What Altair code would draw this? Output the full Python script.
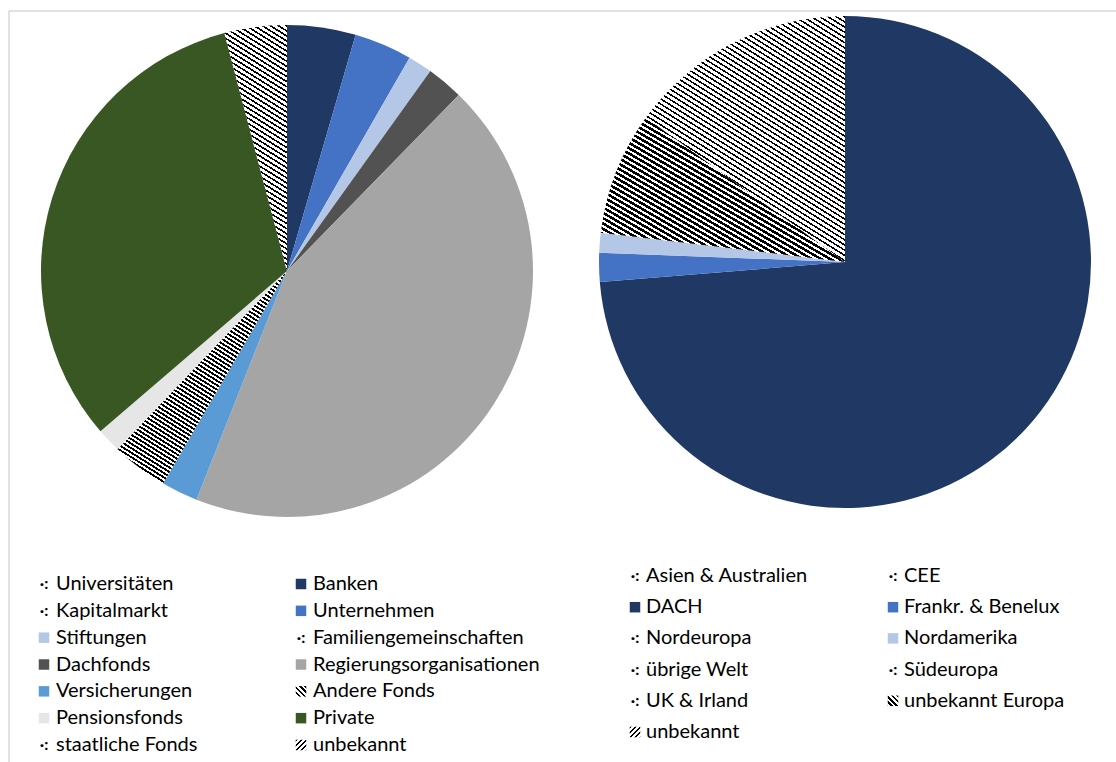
import math
import altair as alt
import pandas as pd

# ---------------- data ----------------
left_cats = ["Universitäten", "Banken", "Kapitalmarkt", "Unternehmen", "Stiftungen",
             "Familiengemeinschaften", "Dachfonds", "Regierungsorganisationen",
             "Versicherungen", "Andere Fonds", "Pensionsfonds", "Private",
             "staatliche Fonds", "unbekannt"]
left_vals = [0.0, 4.5, 0.0, 3.8, 1.6, 0.0, 2.4, 43.7, 2.4, 3.7, 1.6, 32.2, 0.0, 4.1]

right_cats = ["Asien & Australien", "CEE", "DACH", "Frankr. & Benelux", "Nordeuropa",
              "Nordamerika", "übrige Welt", "Südeuropa", "UK & Irland",
              "unbekannt Europa", "unbekannt"]
right_vals = [0.0, 0.0, 73.7, 1.9, 0.0, 1.3, 0.0, 0.0, 0.0, 8.1, 15.0]

# ---------------- styles ----------------
left_colors = ["#ffffff", "#203864", "#ffffff", "#4472C4", "#B4C7E7", "#ffffff", "#525252",
               "#A5A5A5", "#5B9BD5", "#ffffff", "#E7E6E6", "#385723", "#ffffff", "#ffffff"]
left_kinds = ["dots", "solid", "dots", "solid", "solid", "dots", "solid", "solid", "solid",
              "hatch", "solid", "solid", "dots", "hatch"]
right_colors = ["#ffffff", "#ffffff", "#203864", "#4472C4", "#ffffff", "#B4C7E7", "#ffffff",
                "#ffffff", "#ffffff", "#ffffff", "#ffffff"]
right_kinds = ["dots", "dots", "solid", "solid", "dots", "solid", "dots", "dots", "dots",
               "hatch", "hatch"]

FONT = "Lato"
FS = 20
R = 246


def hatch(W, H, angle, period, frac, fg="#000000", bg="#ffffff"):
    a = math.radians(angle)
    s, c = math.sin(a), math.cos(a)
    dx, dy = -s * W, c * H
    corners = [(0.0, 0.0), (1.0, 0.0), (0.0, 1.0), (1.0, 1.0)]
    vals = [dx * u + dy * v for u, v in corners]
    lo = corners[vals.index(min(vals))]
    hi = corners[vals.index(max(vals))]
    d2 = dx * dx + dy * dy
    lam = ((hi[0] - lo[0]) * dx + (hi[1] - lo[1]) * dy) / d2
    x2, y2 = lo[0] + lam * dx, lo[1] + lam * dy
    span = abs(s) * W + abs(c) * H
    step = period / span
    stops = []
    o = 0.0
    while o < 1.0:
        m = min(o + frac * step, 1.0)
        e = min(o + step, 1.0)
        stops += [{"offset": round(o, 5), "color": fg}, {"offset": round(m, 5), "color": fg},
                  {"offset": round(m, 5), "color": bg}, {"offset": round(e, 5), "color": bg}]
        o += step
    return {"gradient": "linear", "x1": lo[0], "y1": lo[1], "x2": round(x2, 5),
            "y2": round(y2, 5), "stops": stops}


def wedge_box(vals, i, r):
    tot = sum(vals)
    a0 = sum(vals[:i]) / tot * 360
    a1 = a0 + vals[i] / tot * 360
    angs = [a0, a1] + [k for k in (0, 90, 180, 270, 360) if a0 < k < a1]
    xs = [0.0] + [r * math.sin(math.radians(t)) for t in angs]
    ys = [0.0] + [-r * math.cos(math.radians(t)) for t in angs]
    return max(xs) - min(xs), max(ys) - min(ys)


def cond(cat, grad):
    return {"test": "datum.cat === '%s'" % cat, "value": grad}


# hatch parameters: (angle, period, black fraction)
left_hatch = {"Andere Fonds": (32, 3.8, 0.5), "unbekannt": (32, 4.3, 0.38)}
right_hatch = {"unbekannt Europa": (30, 4.6, 0.55), "unbekannt": (32, 4.4, 0.35)}
left_icon_hatch = {"Andere Fonds": (45, 3.6, 0.5), "unbekannt": (-45, 3.6, 0.3)}
right_icon_hatch = {"unbekannt Europa": (45, 3.6, 0.5), "unbekannt": (-45, 3.6, 0.3)}


def pie(cats, vals, colors, hatches, cx, cy):
    df = pd.DataFrame({"cat": cats, "value": vals, "idx": list(range(len(cats)))})
    conds = []
    for name, (ang, per, fr) in hatches.items():
        W, H = wedge_box(vals, cats.index(name), R)
        conds.append(cond(name, hatch(W, H, ang, per, fr)))
    return alt.Chart(df).mark_arc(radius=R).encode(
        theta=alt.Theta("value:Q", stack=True),
        color=alt.Color("cat:N", scale=alt.Scale(domain=cats, range=colors), legend=None,
                        condition=conds),
        order=alt.Order("idx:Q"),
        x=alt.value(cx),
        y=alt.value(cy),
    )


def legend(cats, colors, kinds, hatches, xr, yr, dx):
    n = len(cats)
    df = pd.DataFrame({"cat": cats, "idx": list(range(n)),
                       "row": [i // 2 for i in range(n)], "col": [i % 2 for i in range(n)],
                       "kind": kinds})
    nrows = (n + 1) // 2
    enc_x = alt.X("col:O", scale=alt.Scale(type="point", domain=[0, 1], range=xr, padding=0),
                  axis=None)
    enc_y = alt.Y("row:O", scale=alt.Scale(type="point", domain=list(range(nrows)), range=yr,
                                           padding=0), axis=None)
    icon_cols = [col if k == "solid" else "rgba(0,0,0,0)" for col, k in zip(colors, kinds)]
    side = math.sqrt(110)
    conds = [cond(name, hatch(side, side, a, p, f)) for name, (a, p, f) in hatches.items()]
    base = alt.Chart(df)
    sq = base.mark_square(size=110, opacity=1, filled=True).encode(
        x=enc_x, y=enc_y,
        color=alt.Color("cat:N", scale=alt.Scale(domain=cats, range=icon_cols), legend=None,
                        condition=conds))
    dots = base.transform_filter(alt.datum.kind == "dots").mark_text(
        text="·:", font=FONT, fontSize=16, fontWeight="bold", color="#000000", align="center",
        baseline="middle").encode(x=enc_x, y=enc_y)
    txt = base.mark_text(align="left", baseline="middle", dx=dx, font=FONT, fontSize=FS,
                         color="#000000").encode(x=enc_x, y=enc_y, text="cat:N")
    return [sq, dots, txt]


frame = pd.DataFrame({"k": [0]})
border_v = alt.Chart(frame).mark_rule(color="#d9d9d9", strokeWidth=1.5).encode(
    x=alt.value(9), y=alt.value(11), y2=alt.value(762))
border_h = alt.Chart(frame).mark_rule(color="#d9d9d9", strokeWidth=1.5).encode(
    x=alt.value(9), x2=alt.value(1116), y=alt.value(11))

pie_left = pie(left_cats, left_vals, left_colors, left_hatch, 287, 271)
pie_right = pie(right_cats, right_vals, right_colors, right_hatch, 845, 262)

leg_left = legend(left_cats, left_colors, left_kinds, left_icon_hatch, [44, 301], [584, 745], 12)
leg_right = legend(right_cats, right_colors, right_kinds, right_icon_hatch, [635, 893],
                   [576, 732], 11)

chart = alt.layer(border_v, border_h, pie_left, pie_right, *leg_left, *leg_right).resolve_scale(
    x="independent", y="independent", theta="independent", color="independent"
).properties(
    width=1116, height=762, padding=0, autosize=alt.AutoSizeParams(type="none"),
    background="#ffffff"
).configure_view(stroke=None)

chart.save("out.html", embed_options={"renderer": "svg", "actions": False})
